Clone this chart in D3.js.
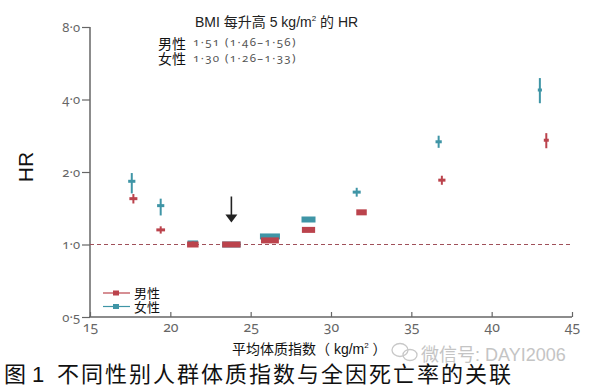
<!DOCTYPE html>
<html>
<head>
<meta charset="utf-8">
<script src="https://cdn.jsdelivr.net/npm/d3@7"></script>
<style>
  body { margin: 0; background: #fff; }
  svg text { font-family: "Liberation Sans", "Noto Sans CJK SC", sans-serif; }
  .tick-num { font-family: "Noto Sans", "Open Sans", sans-serif; font-feature-settings: "onum"; fill: #666; font-size: 13px; }
</style>
</head>
<body>
<script>
// mean BMI per group and HR (95% CI), men
var bmiMen = [17.7, 19.4, 21.4, 23.8, 26.2, 28.6, 31.9, 36.9, 43.4];
var hrMen  = [1.55, 1.15, 1.00, 1.00, 1.04, 1.15, 1.36, 1.85, 2.71];
var loMen  = [1.48, 1.11, 0.98, 1.00, 1.02, 1.13, 1.33, 1.77, 2.51];
var hiMen  = [1.62, 1.19, 1.03, 1.00, 1.06, 1.17, 1.39, 1.93, 2.90];
var wtMen  = [4, 5, 10, 30, 28, 14, 8, 3, 1];

// women
var bmiWomen = [17.6, 19.4, 21.4, 23.8, 26.2, 28.6, 31.6, 36.7, 43.0];
var hrWomen  = [1.83, 1.45, 1.01, 1.00, 1.08, 1.27, 1.65, 2.67, 4.38];
var loWomen  = [1.63, 1.32, 0.99, 1.00, 1.06, 1.25, 1.58, 2.52, 3.86];
var hiWomen  = [1.98, 1.55, 1.03, 1.00, 1.10, 1.29, 1.72, 2.83, 4.91];
var wtWomen  = [3, 3, 8, 30, 36, 16, 4, 2, 0.5];

var xTicks = [15, 20, 25, 30, 35, 40, 45];
var yTicks = [0.5, 1, 2, 4, 8];
var refHR = 1;
var refBMI = 23.8;

var sexLabels = ["男性", "女性"];
var sexColors = ["#bb434c", "#3f95a6"];
var perFive = ["1·51 (1·46–1·56)", "1·30 (1·26–1·33)"];

var W = 593, H = 386;

var svg = d3.select("body")
  .append("svg")
  .attr("width", W)
  .attr("height", H);

var x = d3.scaleLinear().domain([15, 45]).range([90, 572]);
var y = d3.scaleLog().base(2).domain([0.5, 8]).range([317, 27]);
var boxW = d3.scaleSqrt().domain([0, 36]).range([2, 20]);

var fmt = function(v) { return d3.format(".1f")(v).replace(".", "·"); };

// #region AXES
var yAxis = svg.append("g")
  .attr("transform", "translate(90,0)")
  .call(d3.axisLeft(y).tickValues(yTicks).tickFormat(fmt).tickSize(8).tickPadding(2));
yAxis.select(".domain").attr("stroke", "#666").attr("stroke-width", 1.5).attr("d", "M0," + y(8) + "V" + y(0.5));
yAxis.selectAll(".tick line").attr("stroke", "#666").attr("stroke-width", 1.2);
yAxis.selectAll(".tick text").attr("class", "tick-num");

var xAxis = svg.append("g")
  .attr("transform", "translate(0,317)")
  .call(d3.axisBottom(x).tickValues(xTicks).tickFormat(d3.format("d")).tickSize(-5).tickPadding(5));
xAxis.select(".domain").attr("stroke", "#666").attr("stroke-width", 1.5).attr("d", "M89,0H" + x(45));
xAxis.selectAll(".tick line").attr("stroke", "#666").attr("stroke-width", 1.2);
xAxis.selectAll(".tick text").attr("class", "tick-num").style("font-size", "14px");
// #endregion

// reference line HR = 1
svg.append("line")
  .attr("x1", 90).attr("x2", x(45))
  .attr("y1", y(refHR)).attr("y2", y(refHR))
  .attr("stroke", "#a0505a")
  .attr("stroke-width", 1)
  .attr("stroke-dasharray", "4,3");

// #region POINTS
function series(bmi, hr, lo, hi, wt, color) {
  var data = bmi.map(function(b, i) {
    return {bmi: b, hr: hr[i], lo: lo[i], hi: hi[i], wt: wt[i]};
  });
  var g = svg.append("g");
  g.selectAll("line")
    .data(data)
    .enter()
    .append("line")
      .attr("x1", d => x(d.bmi))
      .attr("x2", d => x(d.bmi))
      .attr("y1", d => y(d.lo))
      .attr("y2", d => y(d.hi))
      .attr("stroke", color)
      .attr("stroke-width", 2);
  g.selectAll("rect")
    .data(data)
    .enter()
    .append("rect")
      .attr("x", d => x(d.bmi) - boxW(d.wt) / 2)
      .attr("width", d => boxW(d.wt))
      .attr("y", d => y(d.hr) - (d.wt >= 8 ? 3 : 1.5))
      .attr("height", d => d.wt >= 8 ? 6 : 3)
      .attr("fill", color);
}
series(bmiWomen, hrWomen, loWomen, hiWomen, wtWomen, sexColors[1]);
series(bmiMen, hrMen, loMen, hiMen, wtMen, sexColors[0]);
// #endregion

// arrow at reference group
var ax = x(refBMI);
svg.append("line")
  .attr("x1", ax).attr("x2", ax)
  .attr("y1", y(refHR) - 48).attr("y2", y(refHR) - 28)
  .attr("stroke", "#222").attr("stroke-width", 1.6);
svg.append("path")
  .attr("d", "M" + (ax - 6) + "," + (y(refHR) - 30) + "L" + (ax + 6) + "," + (y(refHR) - 30) + "L" + ax + "," + (y(refHR) - 22) + "Z")
  .attr("fill", "#222");

// #region ANNOTATION
var ann = svg.append("g");
var t = ann.append("text")
  .attr("x", 195).attr("y", 27)
  .attr("font-size", 14)
  .attr("fill", "#222");
t.append("tspan").text("BMI 每升高 5 kg/m");
t.append("tspan").text("2").attr("font-size", 8).attr("dy", -6);
t.append("tspan").text(" 的 HR").attr("dy", 6);

ann.selectAll(".sexlab")
  .data(sexLabels)
  .enter()
  .append("text")
    .attr("x", 186).attr("y", (d, i) => 49 + i * 15)
    .attr("text-anchor", "end")
    .attr("font-size", 14)
    .attr("fill", "#111")
    .text(d => d);

ann.selectAll(".per5")
  .data(perFive)
  .enter()
  .append("text")
    .attr("class", "tick-num")
    .attr("x", 193).attr("y", (d, i) => 46 + i * 16)
    .style("font-size", "11.5px")
    .style("letter-spacing", "1.4px")
    .style("fill", "#555")
    .text(d => d);
// #endregion

// #region LEGEND
var leg = svg.append("g")
  .selectAll("g")
  .data(sexLabels)
  .enter()
  .append("g")
    .attr("transform", (d, i) => "translate(0," + (293 + i * 13.5) + ")");
leg.append("line")
  .attr("x1", 103).attr("x2", 130)
  .attr("stroke", (d, i) => sexColors[i])
  .attr("stroke-width", 1.2);
leg.append("rect")
  .attr("x", 113).attr("y", -2.5).attr("width", 6).attr("height", 5)
  .attr("fill", (d, i) => sexColors[i]);
leg.append("text")
  .attr("x", 134).attr("y", 5)
  .attr("font-size", 13)
  .attr("fill", "#111")
  .text(d => d);
// #endregion

// axis titles
svg.append("text")
  .attr("transform", "translate(33,167) rotate(-90)")
  .attr("text-anchor", "middle")
  .attr("font-size", 21)
  .attr("fill", "#111")
  .text("HR");

var xt = svg.append("text")
  .attr("x", 232).attr("y", 354)
  .attr("font-size", 14)
  .attr("fill", "#111");
xt.append("tspan").text("平均体质指数（ kg/m");
xt.append("tspan").text("2").attr("font-size", 8).attr("dy", -6);
xt.append("tspan").text(" ）").attr("dy", 6);

// watermark
var wm = svg.append("g").attr("fill", "none").attr("stroke", "#c8c8c8").attr("stroke-width", 1.3);
wm.append("ellipse").attr("cx", 400).attr("cy", 350).attr("rx", 8).attr("ry", 6.5);
wm.append("ellipse").attr("cx", 410).attr("cy", 355).attr("rx", 7).attr("ry", 5.5);
svg.append("text")
  .attr("x", 421).attr("y", 361)
  .attr("font-size", 18)
  .attr("fill", "#c4c4c4")
  .text("微信号: DAYI2006");

// caption
svg.append("text")
  .attr("x", 4).attr("y", 382)
  .attr("font-size", 22)
  .attr("fill", "#111")
  .attr("font-family", "Noto Sans CJK SC")
  .text("图 1");
svg.append("text")
  .attr("x", 57).attr("y", 382)
  .attr("font-size", 22)
  .attr("letter-spacing", 2)
  .attr("fill", "#111")
  .attr("font-family", "Noto Sans CJK SC")
  .text("不同性别人群体质指数与全因死亡率的关联");
</script>
</body>
</html>
